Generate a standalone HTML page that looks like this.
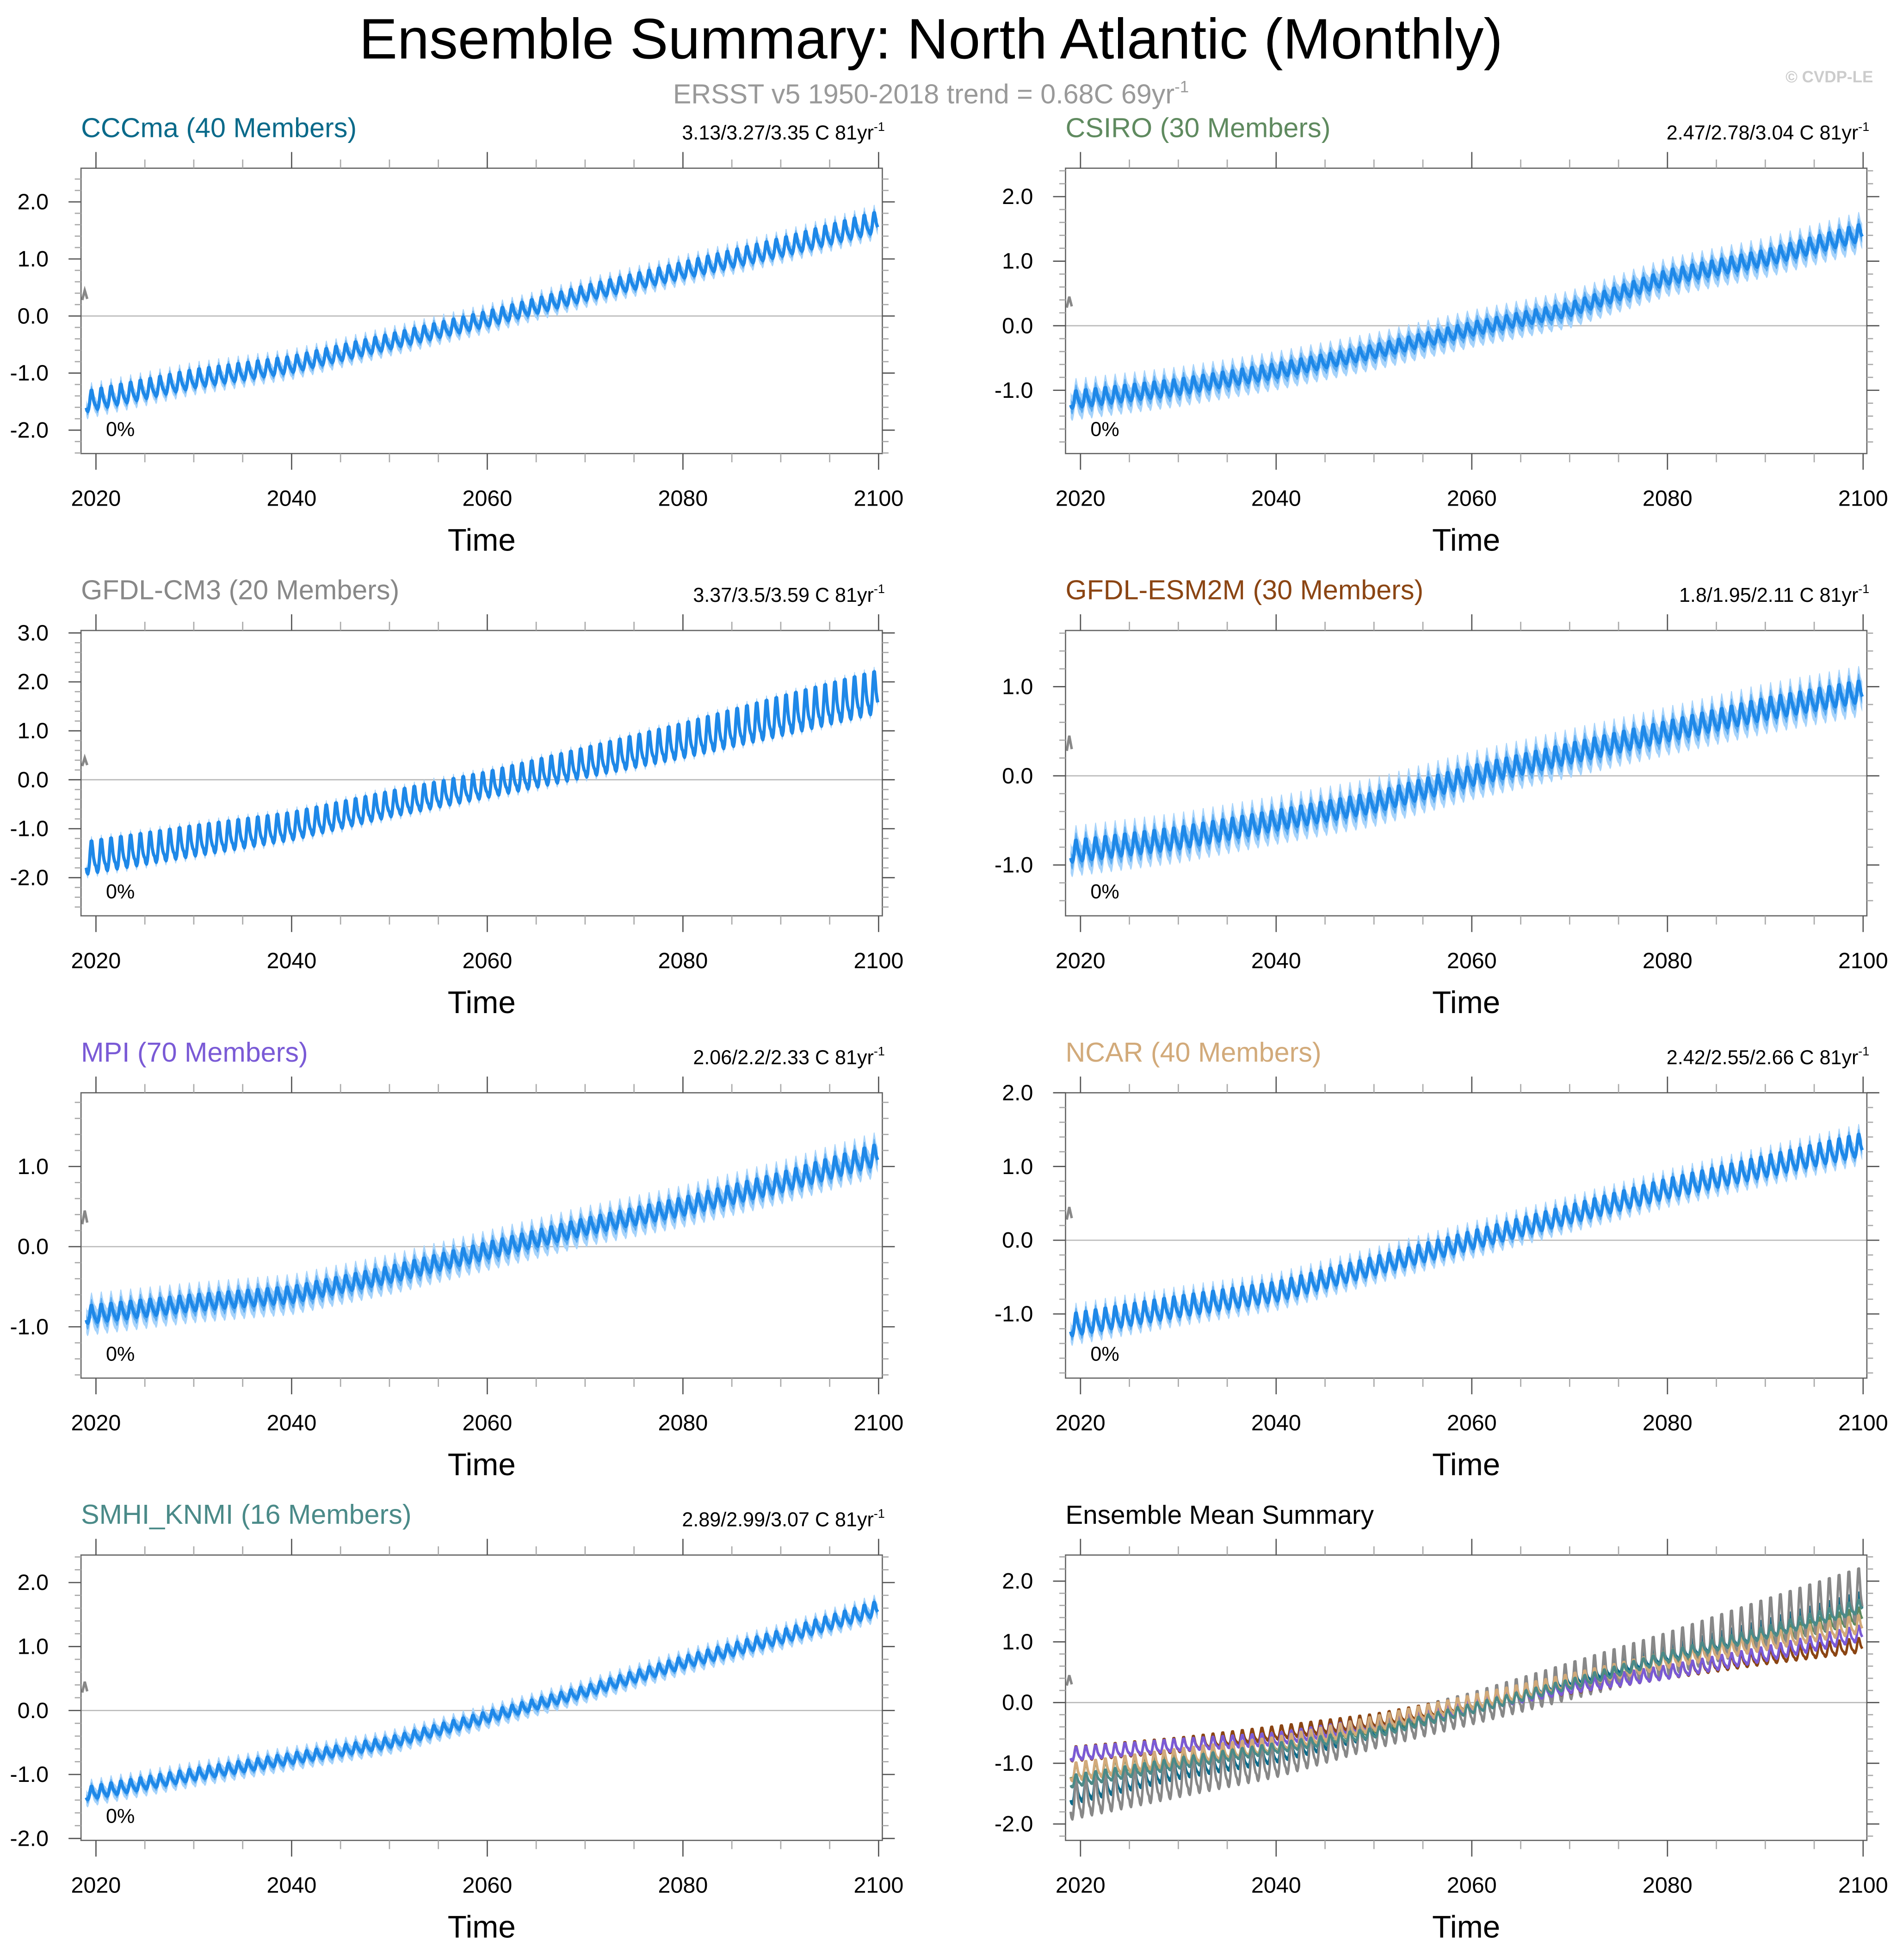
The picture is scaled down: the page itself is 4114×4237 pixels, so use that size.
<!DOCTYPE html>
<html><head><meta charset="utf-8"><style>
html,body{margin:0;padding:0;background:#fff}
svg{display:block}
text{font-family:"Liberation Sans",Arial,sans-serif}
</style></head><body>
<svg id="fig" xmlns="http://www.w3.org/2000/svg" width="4114" height="4237" viewBox="0 0 1527 1573" preserveAspectRatio="none">
<rect width="1527" height="1573" fill="#fff"/>
<text x="747" y="47" font-size="46" text-anchor="middle" fill="#000">Ensemble Summary: North Atlantic (Monthly)</text>
<text x="747" y="83" font-size="22" text-anchor="middle" fill="#999">ERSST v5 1950-2018 trend = 0.68C 69yr<tspan dy="-9" font-size="13">-1</tspan></text>
<text x="1503" y="66" font-size="13" text-anchor="end" fill="#ccc" font-weight="bold">© CVDP-LE</text>
<g id="panels"></g>
</svg>
<script>
// ---- data ----
const knotYears = [2019, 2030, 2040, 2050, 2060, 2070, 2080, 2090, 2100];
const cccmaMean = [-1.5, -1.1, -0.85, -0.45, -0.05, 0.4, 0.8, 1.2, 1.65];
const csiroMean = [-1.15, -0.95, -0.7, -0.4, -0.05, 0.25, 0.75, 1.05, 1.45];
const cm3Mean   = [-1.6, -1.25, -0.95, -0.5, -0.1, 0.35, 0.8, 1.3, 1.8];
const esm2mMean = [-0.85, -0.7, -0.5, -0.3, 0.0, 0.25, 0.5, 0.75, 0.95];
const mpiMean   = [-0.85, -0.7, -0.6, -0.35, -0.05, 0.25, 0.5, 0.8, 1.15];
const ncarMean  = [-1.15, -0.9, -0.7, -0.35, 0.0, 0.35, 0.7, 1.0, 1.3];
const smhiMean  = [-1.3, -1.0, -0.75, -0.5, -0.1, 0.3, 0.75, 1.15, 1.6];
const cccmaAmp = [0.18, 0.16, 0.14, 0.13, 0.13, 0.13, 0.14, 0.16, 0.18];
const csiroAmp = [0.13, 0.12, 0.11, 0.1, 0.1, 0.1, 0.11, 0.12, 0.13];
const cm3Amp   = [0.33, 0.31, 0.28, 0.26, 0.26, 0.3, 0.35, 0.4, 0.43];
const esm2mAmp = [0.12, 0.12, 0.11, 0.11, 0.11, 0.11, 0.11, 0.12, 0.12];
const mpiAmp   = [0.11, 0.1, 0.1, 0.1, 0.1, 0.1, 0.11, 0.12, 0.13];
const ncarAmp  = [0.15, 0.14, 0.13, 0.12, 0.12, 0.12, 0.13, 0.14, 0.15];
const smhiAmp  = [0.1, 0.09, 0.08, 0.08, 0.08, 0.08, 0.09, 0.1, 0.11];
const spreads = [0.14, 0.2, 0.1, 0.17, 0.16, 0.14, 0.12];
const seasonalCycle = [-0.6, -0.9, -1.0, -0.8, -0.3, 0.4, 1.0, 1.0, 0.5, 0.0, -0.3, -0.5];
const modelNames = ["CCCma (40 Members)", "CSIRO (30 Members)", "GFDL-CM3 (20 Members)", "GFDL-ESM2M (30 Members)", "MPI (70 Members)", "NCAR (40 Members)", "SMHI_KNMI (16 Members)"];
const trendLabels = ["3.13/3.27/3.35 C 81yr", "2.47/2.78/3.04 C 81yr", "3.37/3.5/3.59 C 81yr", "1.8/1.95/2.11 C 81yr", "2.06/2.2/2.33 C 81yr", "2.42/2.55/2.66 C 81yr", "2.89/2.99/3.07 C 81yr"];
const modelColors = ["#0a6a8a", "#5f8a5f", "#888888", "#8b4513", "#7a5ad6", "#d2aa7a", "#4a8a88"];
const xTickLabels = [2020, 2040, 2060, 2080, 2100];
const yTickSets = [[-2,-1,0,1,2],[-1,0,1,2],[-2,-1,0,1,2,3],[-1,0,1],[-1,0,1],[-1,0,1,2],[-2,-1,0,1,2],[-2,-1,0,1,2]];
const yRanges = [[-2.41,2.59],[-1.98,2.44],[-2.78,3.05],[-1.57,1.63],[-1.64,1.92],[-1.87,2.0],[-2.03,2.43],[-2.27,2.43]];
const allMeans = [cccmaMean, csiroMean, cm3Mean, esm2mMean, mpiMean, ncarMean, smhiMean];
const allAmps = [cccmaAmp, csiroAmp, cm3Amp, esm2mAmp, mpiAmp, ncarAmp, smhiAmp];

const NS = "http://www.w3.org/2000/svg";
const root = document.getElementById('panels');
function mk(tag, attrs, parent){const e=document.createElementNS(NS,tag);for(const k in attrs)e.setAttribute(k,attrs[k]);(parent||root).appendChild(e);return e;}
function interp(arr, t){
  if(t<=knotYears[0])return arr[0];
  for(let i=0;i<knotYears.length-1;i++){if(t<=knotYears[i+1]){const f=(t-knotYears[i])/(knotYears[i+1]-knotYears[i]);return arr[i]+f*(arr[i+1]-arr[i]);}}
  return arr[arr.length-1];
}
function series(mi){
  const out=[];
  for(let y=2019;y<=2099;y++)for(let m=0;m<12;m++){const t=y+m/12;out.push([t, interp(allMeans[mi],t)+interp(allAmps[mi],t)*seasonalCycle[m]]);}
  return out;
}
const colsX=[65,855], rowsY=[135,506,877,1248], W=643, H=229;
for(let p=0;p<8;p++){
  const x0=colsX[p%2], y0=rowsY[Math.floor(p/2)], x1=x0+W, y1=y0+H;
  const [ymin,ymax]=yRanges[p];
  const xs=t=>x0+12+(t-2020)*7.85;
  const ys=v=>y1-(v-ymin)/(ymax-ymin)*H;
  const g=mk('g',{});
  
  
  const zl=mk('line',{x1:x0,x2:x1,y1:ys(0),y2:ys(0),stroke:'#bbb','stroke-width':1},g);
  
  
  if(p<7){
    const s=series(p), sp=spreads[p];
    const band=(k,col,nm)=>{let d='M';s.forEach((q,i)=>{d+=(i?'L':'')+xs(q[0]).toFixed(1)+','+ys(q[1]+sp*k).toFixed(1);});for(let i=s.length-1;i>=0;i--)d+='L'+xs(s[i][0]).toFixed(1)+','+ys(s[i][1]-sp*k).toFixed(1);const e=mk('path',{d:d+'Z',fill:col},g);};
    band(1,'#a6d3fb','spread-band-outer');
    band(0.5,'#5aaaf0','spread-band-inner');
    let d='';s.forEach((q,i)=>{d+=(i?'L':'M')+xs(q[0]).toFixed(1)+','+ys(q[1]).toFixed(1);});
    const ln=mk('path',{d,fill:'none',stroke:'#1e88e8','stroke-width':2.6,'stroke-linejoin':'round'},g);
    
    
    const tt=mk('text',{x:x0,y:y0-25,'font-size':22,fill:modelColors[p]},g);tt.textContent=modelNames[p];
    
    
    const tr=mk('text',{x:x1+2,y:y0-23,'font-size':16,'text-anchor':'end',fill:'#000'},g);tr.textContent=trendLabels[p];
    const sup=mk('tspan',{dy:-7,'font-size':10},tr);sup.textContent='-1';
    
    
    const pc=mk('text',{x:x0+20,y:y1-14,'font-size':16,fill:'#000'},g);
    pc.textContent='0%';
    
    
  } else {
    for(let mi=0;mi<7;mi++){
      const s=series(mi);let d='';s.forEach((q,i)=>{d+=(i?'L':'M')+xs(q[0]).toFixed(1)+','+ys(q[1]).toFixed(1);});
      const ln=mk('path',{d,fill:'none',stroke:modelColors[mi],'stroke-width':2,'stroke-linejoin':'round'},g);
      
      
    }
    const tt=mk('text',{x:x0,y:y0-25,'font-size':21,fill:'#000'},g);tt.textContent='Ensemble Mean Summary';
    
    
  }
  const om=mk('path',{d:`M${x0+1},${ys(0.28)} L${x0+3},${ys(0.45)} L${x0+5},${ys(0.3)}`,fill:'none',stroke:'#888','stroke-width':2},g);
  
  
  const bx=mk('rect',{x:x0,y:y0,width:W,height:H,fill:'none',stroke:'#666','stroke-width':1},g);
  
  
  const step=0.2;
  for(let v=Math.ceil(ymin/step)*step; v<=ymax+1e-9; v+=step){
    const isMaj=Math.abs(v-Math.round(v))<1e-6, L=isMaj?10:5, yy=ys(v);
    mk('line',{x1:x0-L,x2:x0,y1:yy,y2:yy,stroke:isMaj?'#555':'#aaa','stroke-width':1},g);
    mk('line',{x1:x1,x2:x1+L,y1:yy,y2:yy,stroke:isMaj?'#555':'#aaa','stroke-width':1},g);
  }
  yTickSets[p].forEach(v=>{const t=mk('text',{x:x0-26,y:ys(v)+6,'font-size':18,'text-anchor':'end',fill:'#000'},g);t.textContent=v.toFixed(1);
    
    });
  for(let yr=2020;yr<=2100;yr+=5){
    const isMaj=yr%20===0, L=isMaj?13:7, xx=xs(yr);
    mk('line',{x1:xx,x2:xx,y1:y0-L,y2:y0,stroke:isMaj?'#555':'#aaa','stroke-width':1},g);
    mk('line',{x1:xx,x2:xx,y1:y1,y2:y1+L,stroke:isMaj?'#555':'#aaa','stroke-width':1},g);
  }
  xTickLabels.forEach(v=>{const t=mk('text',{x:xs(v),y:y1+42,'font-size':18,'text-anchor':'middle',fill:'#000'},g);t.textContent=v;
    
    });
  const xt=mk('text',{x:(x0+x1)/2,y:y1+78,'font-size':25,'text-anchor':'middle',fill:'#000'},g);xt.textContent='Time';
  
  
}
</script>
</body></html>
